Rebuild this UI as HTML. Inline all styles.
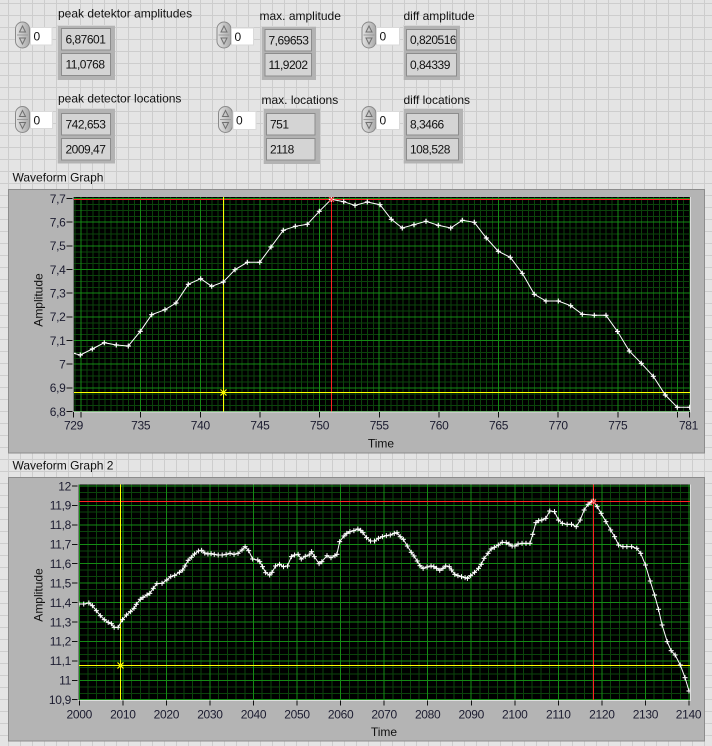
<!DOCTYPE html>
<html><head><meta charset="utf-8">
<style>
html,body{margin:0;padding:0;width:712px;height:746px;overflow:hidden;background:#e4e4e4}
svg{display:block}
text{font-family:"Liberation Sans",Arial,sans-serif;font-size:12px;fill:#111}
.n{letter-spacing:-0.5px}
.ax{fill:#1c1c30;letter-spacing:-0.3px}
</style></head><body>
<svg width="712" height="746" viewBox="0 0 712 746" xmlns="http://www.w3.org/2000/svg" xmlns:xlink="http://www.w3.org/1999/xlink">
<defs>
<pattern id="bg" patternUnits="userSpaceOnUse" x="0" y="0" width="12" height="12">
<rect width="12" height="12" fill="#e4e4e4"/>
<rect x="8" y="0" width="1" height="12" fill="#cdcdcd"/>
<rect x="0" y="3" width="12" height="1" fill="#cdcdcd"/>
</pattern>
<linearGradient id="sg" x1="0" y1="0" x2="1" y2="0">
<stop offset="0" stop-color="#e2e2e2"/><stop offset="1" stop-color="#a9a9a9"/>
</linearGradient>
<g id="spin">
<rect x="0.5" y="0.5" width="14" height="26" rx="7" fill="url(#sg)" stroke="#8a8a8a"/>
<path d="M7.5 4.5L4.5 10.5H10.5Z" fill="none" stroke="#707070"/>
<line x1="2" y1="13.5" x2="13" y2="13.5" stroke="#9a9a9a"/>
<path d="M7.5 22.5L4.5 16.5H10.5Z" fill="none" stroke="#707070"/>
</g>
<marker id="m1" markerUnits="userSpaceOnUse" markerWidth="8" markerHeight="8" refX="4" refY="4" overflow="visible">
<path d="M1.5 4H6.5M4 1.5V6.5" stroke="#fff" stroke-width="1.2"/>
</marker>
<marker id="m2" markerUnits="userSpaceOnUse" markerWidth="20" markerHeight="20" refX="0" refY="0" overflow="visible">
<rect x="-6.3" y="-1.6" width="12.6" height="3.2" fill="#fff"/>
<rect x="-1.3" y="-7.5" width="2.6" height="15" fill="#fff"/>
</marker>
<clipPath id="c1"><rect x="73" y="197" width="617" height="214.5"/></clipPath>
<clipPath id="c2"><rect x="78" y="484.5" width="612" height="215.5"/></clipPath>
<clipPath id="ce"><rect x="406.5" y="29.5" width="49" height="20.5"/></clipPath>
</defs>

<rect width="712" height="746" fill="url(#bg)"/>

<!-- ===== Controls ===== -->
<g>
<text x="58" y="17.5">peak detektor amplitudes</text>
<use xlink:href="#spin" x="15" y="21.5"/>
<rect x="30.5" y="27.5" width="21.5" height="17.5" fill="#fff" stroke="#dadada"/>
<text x="33.5" y="40.5">0</text>
<rect x="57" y="25" width="58" height="55" fill="#b3b3b3"/>
<path d="M57.5 80V25.5H115" fill="none" stroke="#d6d6d6"/>
<rect x="61.5" y="28.5" width="49" height="21.5" fill="#d4d4d4" stroke="#8c8c8c"/>
<text class="n" x="65.5" y="43.5">6,87601</text>
<rect x="61.5" y="53.5" width="49" height="22" fill="#d4d4d4" stroke="#8c8c8c"/>
<text class="n" x="65.5" y="68.7">11,0768</text>

<text x="259.5" y="20">max. amplitude</text>
<use xlink:href="#spin" x="216.5" y="21.5"/>
<rect x="231.5" y="28" width="22" height="17" fill="#fff" stroke="#dadada"/>
<text x="234.5" y="41">0</text>
<rect x="261" y="26" width="55" height="54" fill="#b3b3b3"/>
<path d="M261.5 80V26.5H316" fill="none" stroke="#d6d6d6"/>
<rect x="265" y="29.5" width="46.5" height="21.5" fill="#d4d4d4" stroke="#8c8c8c"/>
<text class="n" x="268.5" y="44.5">7,69653</text>
<rect x="265" y="53.5" width="46.5" height="22.5" fill="#d4d4d4" stroke="#8c8c8c"/>
<text class="n" x="268.5" y="69">11,9202</text>

<text x="403.5" y="20">diff amplitude</text>
<use xlink:href="#spin" x="361.5" y="21.5"/>
<rect x="376.5" y="27.5" width="23" height="17.5" fill="#fff" stroke="#dadada"/>
<text x="379.5" y="40.5">0</text>
<rect x="403" y="25" width="57" height="55" fill="#b3b3b3"/>
<path d="M403.5 80V25.5H460" fill="none" stroke="#d6d6d6"/>
<rect x="406.5" y="29.5" width="50" height="20.5" fill="#d4d4d4" stroke="#8c8c8c"/>
<text class="n" x="410" y="44" clip-path="url(#ce)">0,820516</text>
<rect x="406.5" y="53.5" width="50" height="22.5" fill="#d4d4d4" stroke="#8c8c8c"/>
<text class="n" x="410" y="69">0,84339</text>

<text x="58" y="102.5">peak detector locations</text>
<use xlink:href="#spin" x="15" y="106"/>
<rect x="30.5" y="111.5" width="22" height="17" fill="#fff" stroke="#dadada"/>
<text x="33.5" y="124.5">0</text>
<rect x="57" y="108" width="58" height="55.5" fill="#b3b3b3"/>
<path d="M57.5 163.5V108.5H115" fill="none" stroke="#d6d6d6"/>
<rect x="61.5" y="113.5" width="49" height="21.5" fill="#d4d4d4" stroke="#8c8c8c"/>
<text class="n" x="65.5" y="128.5">742,653</text>
<rect x="61.5" y="138.5" width="49" height="21.5" fill="#d4d4d4" stroke="#8c8c8c"/>
<text class="n" x="65.5" y="153.5">2009,47</text>

<text x="261.5" y="104">max. locations</text>
<use xlink:href="#spin" x="218" y="106"/>
<rect x="233" y="111.5" width="23" height="18" fill="#fff" stroke="#dadada"/>
<text x="236" y="124.5">0</text>
<rect x="263" y="108" width="57" height="56" fill="#b3b3b3"/>
<path d="M263.5 164V108.5H320" fill="none" stroke="#d6d6d6"/>
<rect x="266.5" y="113.5" width="48.5" height="21.5" fill="#d4d4d4" stroke="#8c8c8c"/>
<text class="n" x="270" y="128.5">751</text>
<rect x="266.5" y="138.5" width="48.5" height="21.5" fill="#d4d4d4" stroke="#8c8c8c"/>
<text class="n" x="270" y="153.5">2118</text>

<text x="403.5" y="104">diff locations</text>
<use xlink:href="#spin" x="361.5" y="106"/>
<rect x="376.5" y="111.5" width="23" height="18" fill="#fff" stroke="#dadada"/>
<text x="379.5" y="124.5">0</text>
<rect x="403" y="108" width="60" height="55.5" fill="#b3b3b3"/>
<path d="M403.5 163.5V108.5H463" fill="none" stroke="#d6d6d6"/>
<rect x="406.5" y="113.5" width="52" height="21.5" fill="#d4d4d4" stroke="#8c8c8c"/>
<text class="n" x="410" y="128.5">8,3466</text>
<rect x="406.5" y="138.5" width="52" height="21.5" fill="#d4d4d4" stroke="#8c8c8c"/>
<text class="n" x="410" y="153.5">108,528</text>
</g>

<!-- ===== Waveform Graph 1 ===== -->
<text x="12.5" y="181.5">Waveform Graph</text>
<rect x="8.5" y="189.5" width="696" height="263.5" fill="#b4b4b4" stroke="#8c8c8c"/>
<rect x="73" y="197" width="617" height="214.5" fill="#000"/>
<g clip-path="url(#c1)" fill="none">
<g shape-rendering="crispEdges">
<path stroke="#0b440b" stroke-width="1" d="M75.035 197v214.5m5.965 -214.5v214.5m5.965 -214.5v214.5m5.965 -214.5v214.5m5.965 -214.5v214.5m5.965 -214.5v214.5m5.965 -214.5v214.5m5.965 -214.5v214.5m5.965 -214.5v214.5m5.965 -214.5v214.5m5.965 -214.5v214.5m5.965 -214.5v214.5m5.965 -214.5v214.5m5.965 -214.5v214.5m5.965 -214.5v214.5m5.965 -214.5v214.5m5.965 -214.5v214.5m5.965 -214.5v214.5m5.965 -214.5v214.5m5.965 -214.5v214.5m5.965 -214.5v214.5m5.965 -214.5v214.5m5.965 -214.5v214.5m5.965 -214.5v214.5m5.965 -214.5v214.5m5.965 -214.5v214.5m5.965 -214.5v214.5m5.965 -214.5v214.5m5.965 -214.5v214.5m5.965 -214.5v214.5m5.965 -214.5v214.5m5.965 -214.5v214.5m5.965 -214.5v214.5m5.965 -214.5v214.5m5.965 -214.5v214.5m5.965 -214.5v214.5m5.965 -214.5v214.5m5.965 -214.5v214.5m5.965 -214.5v214.5m5.965 -214.5v214.5m5.965 -214.5v214.5m5.965 -214.5v214.5m5.965 -214.5v214.5m5.965 -214.5v214.5m5.965 -214.5v214.5m5.965 -214.5v214.5m5.965 -214.5v214.5m5.965 -214.5v214.5m5.965 -214.5v214.5m5.965 -214.5v214.5m5.965 -214.5v214.5m5.965 -214.5v214.5m5.965 -214.5v214.5m5.965 -214.5v214.5m5.965 -214.5v214.5m5.965 -214.5v214.5m5.965 -214.5v214.5m5.965 -214.5v214.5m5.965 -214.5v214.5m5.965 -214.5v214.5m5.965 -214.5v214.5m5.965 -214.5v214.5m5.965 -214.5v214.5m5.965 -214.5v214.5m5.965 -214.5v214.5m5.965 -214.5v214.5m5.965 -214.5v214.5m5.965 -214.5v214.5m5.965 -214.5v214.5m5.965 -214.5v214.5m5.965 -214.5v214.5m5.965 -214.5v214.5m5.965 -214.5v214.5m5.965 -214.5v214.5m5.965 -214.5v214.5m5.965 -214.5v214.5m5.965 -214.5v214.5m5.965 -214.5v214.5m5.965 -214.5v214.5m5.965 -214.5v214.5m5.965 -214.5v214.5m5.965 -214.5v214.5m5.965 -214.5v214.5m5.965 -214.5v214.5m5.965 -214.5v214.5m5.965 -214.5v214.5m5.965 -214.5v214.5m5.965 -214.5v214.5m5.965 -214.5v214.5m5.965 -214.5v214.5m5.965 -214.5v214.5m5.965 -214.5v214.5m5.965 -214.5v214.5m5.965 -214.5v214.5m5.965 -214.5v214.5m5.965 -214.5v214.5m5.965 -214.5v214.5m5.965 -214.5v214.5m5.965 -214.5v214.5m5.965 -214.5v214.5m5.965 -214.5v214.5m5.965 -214.5v214.5m5.965 -214.5v214.5m5.965 -214.5v214.5m5.965 -214.5v214.5m5.965 -214.5v214.5"/>
<path stroke="#0b440b" stroke-width="1" d="M73 198.5h617m-617 5.9175h617m-617 5.9175h617m-617 5.9175h617m-617 5.9175h617m-617 5.9175h617m-617 5.9175h617m-617 5.9175h617m-617 5.9175h617m-617 5.9175h617m-617 5.9175h617m-617 5.9175h617m-617 5.9175h617m-617 5.9175h617m-617 5.9175h617m-617 5.9175h617m-617 5.9175h617m-617 5.9175h617m-617 5.9175h617m-617 5.9175h617m-617 5.9175h617m-617 5.9175h617m-617 5.9175h617m-617 5.9175h617m-617 5.9175h617m-617 5.9175h617m-617 5.9175h617m-617 5.9175h617m-617 5.9175h617m-617 5.9175h617m-617 5.9175h617m-617 5.9175h617m-617 5.9175h617m-617 5.9175h617m-617 5.9175h617m-617 5.9175h617m-617 5.9175h617"/>
<path stroke="#148a14" stroke-width="1" d="M81 197v214.5m59.65 -214.5v214.5m59.65 -214.5v214.5m59.65 -214.5v214.5m59.65 -214.5v214.5m59.65 -214.5v214.5m59.65 -214.5v214.5m59.65 -214.5v214.5m59.65 -214.5v214.5m59.65 -214.5v214.5m59.65 -214.5v214.5"/>
<path stroke="#148a14" stroke-width="1" d="M73 198.5h617m-617 23.67h617m-617 23.67h617m-617 23.67h617m-617 23.67h617m-617 23.67h617m-617 23.67h617m-617 23.67h617m-617 23.67h617m-617 23.67h617"/>
<line x1="331.5" y1="197" x2="331.5" y2="412" stroke="#ff2020"/>
<line x1="73" y1="199.5" x2="690" y2="199.5" stroke="#ff2020"/>
<line x1="223.5" y1="197" x2="223.5" y2="412" stroke="#ffff00"/>
<line x1="73" y1="392.5" x2="690" y2="392.5" stroke="#ffff00"/>
</g>
<polyline fill="none" stroke="#fff" stroke-width="1" marker-start="url(#m1)" marker-mid="url(#m1)" marker-end="url(#m1)" points="73.3,353.3 80.3,355 92.3,349 104.3,342.7 116.3,345 128.3,346 140.3,331.3 151.7,314.7 165,309.7 176,303 188.3,284.3 200.7,278.7 211.7,286.3 223.3,282 235,269.7 247.3,262.3 259.7,262.3 271,247 283.3,230.3 295.3,226.3 307.3,224.3 319.3,211.3 331.3,199.3 343.7,201.7 355,205.3 367.3,202 380,204.7 391.3,219.3 402.3,228 414,224.7 426,221.3 438.3,225.3 450.7,228 462.3,220.3 474.3,222.3 486.3,238 498.3,251.3 510.3,257.3 522.3,273.3 534.3,294.3 546,301 558.3,301 570.7,305.7 582.3,314.3 594.3,315.3 606,315.3 617.5,331.5 629.3,351 641.3,363.3 653.3,376.3 665.3,395 677.3,407.3 689.7,407.3"/>
<path d="M220.5 389.5l6 6M226.5 389.5l-6 6" stroke="#ffff00" stroke-width="1.2"/>
<path d="M329 197l5 5M334 197l-5 5" stroke="#ff4040" stroke-width="1.2"/>
</g>
<rect x="73" y="197" width="1" height="215" fill="#7a7a7a"/>
<rect x="73" y="411.5" width="618" height="1" fill="#dedede"/>
<rect x="690" y="197" width="1" height="215.5" fill="#dedede"/>
<path stroke="#111" stroke-width="1" shape-rendering="crispEdges" d="M66.5 198.5h6M66.5 222.2h6M66.5 245.8h6M66.5 269.5h6M66.5 293.2h6M66.5 316.9h6M66.5 340.5h6M66.5 364.2h6M66.5 387.9h6M66.5 411.5h6"/>
<g text-anchor="end">
<text class="ax" x="65.5" y="202.8">7,7</text>
<text class="ax" x="65.5" y="226.5">7,6</text>
<text class="ax" x="65.5" y="250.1">7,5</text>
<text class="ax" x="65.5" y="273.8">7,4</text>
<text class="ax" x="65.5" y="297.5">7,3</text>
<text class="ax" x="65.5" y="321.2">7,2</text>
<text class="ax" x="65.5" y="344.8">7,1</text>
<text class="ax" x="65.5" y="368.5">7</text>
<text class="ax" x="65.5" y="392.2">6,9</text>
<text class="ax" x="65.5" y="415.8">6,8</text>
</g>
<path stroke="#111" stroke-width="1" shape-rendering="crispEdges" d="M73.5 412v5.5M81 412v5.5M140.65 412v5.5M200.3 412v5.5M259.95 412v5.5M319.6 412v5.5M379.25 412v5.5M438.9 412v5.5M498.55 412v5.5M558.2 412v5.5M617.85 412v5.5M677.5 412v5.5M689.5 412v5.5"/>
<g text-anchor="middle">
<text class="ax" x="73.5" y="429.5">729</text>
<text class="ax" x="140.65" y="429.5">735</text>
<text class="ax" x="200.3" y="429.5">740</text>
<text class="ax" x="259.95" y="429.5">745</text>
<text class="ax" x="319.6" y="429.5">750</text>
<text class="ax" x="379.25" y="429.5">755</text>
<text class="ax" x="438.9" y="429.5">760</text>
<text class="ax" x="498.55" y="429.5">765</text>
<text class="ax" x="558.2" y="429.5">770</text>
<text class="ax" x="617.85" y="429.5">775</text>
<text class="ax" x="688.5" y="429.5">781</text>
<text x="381" y="447.5">Time</text>
</g>
<text transform="translate(42.5,300) rotate(-90)" text-anchor="middle">Amplitude</text>

<!-- ===== Waveform Graph 2 ===== -->
<text x="12.5" y="469.5">Waveform Graph 2</text>
<rect x="8.5" y="477.5" width="696" height="263.5" fill="#b4b4b4" stroke="#8c8c8c"/>
<rect x="78" y="484.5" width="612" height="215.5" fill="#000"/>
<g clip-path="url(#c2)" fill="none">
<g shape-rendering="crispEdges">
<path stroke="#0b440b" stroke-width="1" d="M79.3 484.5v215.5m8.71 -215.5v215.5m8.71 -215.5v215.5m8.71 -215.5v215.5m8.71 -215.5v215.5m8.71 -215.5v215.5m8.71 -215.5v215.5m8.71 -215.5v215.5m8.71 -215.5v215.5m8.71 -215.5v215.5m8.71 -215.5v215.5m8.71 -215.5v215.5m8.71 -215.5v215.5m8.71 -215.5v215.5m8.71 -215.5v215.5m8.71 -215.5v215.5m8.71 -215.5v215.5m8.71 -215.5v215.5m8.71 -215.5v215.5m8.71 -215.5v215.5m8.71 -215.5v215.5m8.71 -215.5v215.5m8.71 -215.5v215.5m8.71 -215.5v215.5m8.71 -215.5v215.5m8.71 -215.5v215.5m8.71 -215.5v215.5m8.71 -215.5v215.5m8.71 -215.5v215.5m8.71 -215.5v215.5m8.71 -215.5v215.5m8.71 -215.5v215.5m8.71 -215.5v215.5m8.71 -215.5v215.5m8.71 -215.5v215.5m8.71 -215.5v215.5m8.71 -215.5v215.5m8.71 -215.5v215.5m8.71 -215.5v215.5m8.71 -215.5v215.5m8.71 -215.5v215.5m8.71 -215.5v215.5m8.71 -215.5v215.5m8.71 -215.5v215.5m8.71 -215.5v215.5m8.71 -215.5v215.5m8.71 -215.5v215.5m8.71 -215.5v215.5m8.71 -215.5v215.5m8.71 -215.5v215.5m8.71 -215.5v215.5m8.71 -215.5v215.5m8.71 -215.5v215.5m8.71 -215.5v215.5m8.71 -215.5v215.5m8.71 -215.5v215.5m8.71 -215.5v215.5m8.71 -215.5v215.5m8.71 -215.5v215.5m8.71 -215.5v215.5m8.71 -215.5v215.5m8.71 -215.5v215.5m8.71 -215.5v215.5m8.71 -215.5v215.5m8.71 -215.5v215.5m8.71 -215.5v215.5m8.71 -215.5v215.5m8.71 -215.5v215.5m8.71 -215.5v215.5m8.71 -215.5v215.5m8.71 -215.5v215.5m8.71 -215.5v215.5"/>
<path stroke="#0b440b" stroke-width="1" d="M78 486h612m-612 6.4767h612m-612 6.4767h612m-612 6.4767h612m-612 6.4767h612m-612 6.4767h612m-612 6.4767h612m-612 6.4767h612m-612 6.4767h612m-612 6.4767h612m-612 6.4767h612m-612 6.4767h612m-612 6.4767h612m-612 6.4767h612m-612 6.4767h612m-612 6.4767h612m-612 6.4767h612m-612 6.4767h612m-612 6.4767h612m-612 6.4767h612m-612 6.4767h612m-612 6.4767h612m-612 6.4767h612m-612 6.4767h612m-612 6.4767h612m-612 6.4767h612m-612 6.4767h612m-612 6.4767h612m-612 6.4767h612m-612 6.4767h612m-612 6.4767h612m-612 6.4767h612m-612 6.4767h612m-612 6.4767h612"/>
<path stroke="#148a14" stroke-width="1" d="M79.3 484.5v215.5m43.55 -215.5v215.5m43.55 -215.5v215.5m43.55 -215.5v215.5m43.55 -215.5v215.5m43.55 -215.5v215.5m43.55 -215.5v215.5m43.55 -215.5v215.5m43.55 -215.5v215.5m43.55 -215.5v215.5m43.55 -215.5v215.5m43.55 -215.5v215.5m43.55 -215.5v215.5m43.55 -215.5v215.5m43.55 -215.5v215.5"/>
<path stroke="#148a14" stroke-width="1" d="M78 486h612m-612 19.43h612m-612 19.43h612m-612 19.43h612m-612 19.43h612m-612 19.43h612m-612 19.43h612m-612 19.43h612m-612 19.43h612m-612 19.43h612m-612 19.43h612m-612 19.43h612"/>
<line x1="593.5" y1="484.5" x2="593.5" y2="700" stroke="#ff2020"/>
<line x1="78" y1="501.5" x2="690" y2="501.5" stroke="#ff2020"/>
<line x1="120.5" y1="484.5" x2="120.5" y2="700" stroke="#ffff00"/>
<line x1="78" y1="665.5" x2="690" y2="665.5" stroke="#ffff00"/>
</g>
<g transform="translate(75.8,485) scale(0.3956,0.33333)">
<polyline fill="none" stroke="#fff" stroke-width="1" vector-effect="non-scaling-stroke" marker-start="url(#m2)" marker-mid="url(#m2)" marker-end="url(#m2)" points="8,357 20,357 33,354 42,362 52,377 62,392 72,404 82,412 90,416 97,427 107,427 118,404 128,390 138,380 147,370 153,358 163,343 170,337 180,330 187,325 196,310 205,296 218,295 230,285 240,275 250,271 262,262 270,255 276,243 284,226 292,217 300,207 310,198 318,196 326,204 334,207 342,206 350,208 360,210 370,210 380,208 390,205 400,208 410,205 420,195 428,185 437,197 447,222 460,225 465,230 472,245 480,263 490,270 496,262 505,243 515,238 525,245 535,243 545,215 553,210 562,208 570,222 580,214 590,210 596,200 603,215 615,236 622,230 635,212 645,218 655,212 660,208 667,170 678,153 685,145 693,140 703,137 713,132 720,136 726,143 735,158 745,168 755,168 765,160 775,155 785,152 795,150 805,145 812,143 820,155 828,163 838,183 848,202 855,213 863,228 870,242 878,250 888,246 898,243 905,245 912,250 920,256 928,250 935,243 944,245 950,255 958,268 966,272 975,275 984,278 990,280 998,272 1008,262 1018,250 1025,238 1032,220 1042,205 1050,192 1058,187 1068,180 1078,172 1088,173 1095,177 1103,183 1110,183 1118,177 1128,175 1138,175 1148,175 1155,148 1163,113 1170,107 1178,105 1188,100 1198,78 1210,80 1220,105 1230,115 1242,118 1253,118 1265,125 1275,105 1285,75 1295,58 1303,52 1308,48 1318,65 1328,85 1340,110 1352,135 1362,155 1372,180 1383,185 1393,185 1405,185 1418,190 1428,205 1440,240 1452,288 1463,330 1473,373 1482,420 1495,470 1505,497 1515,510 1528,540 1540,578 1550,618"/>
</g>
<path d="M117.5 662.5l6 6M123.5 662.5l-6 6" stroke="#ffff00" stroke-width="1.2"/>
<path d="M591 499l5 5M596 499l-5 5" stroke="#ff4040" stroke-width="1.2"/>
</g>
<rect x="78" y="484.5" width="1" height="216" fill="#7a7a7a"/>
<rect x="78" y="700" width="613" height="1" fill="#dedede"/>
<rect x="690" y="484.5" width="1" height="216" fill="#dedede"/>
<path stroke="#111" stroke-width="1" shape-rendering="crispEdges" d="M72 486h5.5M72 505.43h5.5M72 524.86h5.5M72 544.29h5.5M72 563.72h5.5M72 583.15h5.5M72 602.58h5.5M72 622.01h5.5M72 641.44h5.5M72 660.87h5.5M72 680.3h5.5M72 699.73h5.5"/>
<g text-anchor="end">
<text class="ax" x="71" y="490.3">12</text>
<text class="ax" x="71" y="509.7">11,9</text>
<text class="ax" x="71" y="529.2">11,8</text>
<text class="ax" x="71" y="548.6">11,7</text>
<text class="ax" x="71" y="568">11,6</text>
<text class="ax" x="71" y="587.5">11,5</text>
<text class="ax" x="71" y="606.9">11,4</text>
<text class="ax" x="71" y="626.3">11,3</text>
<text class="ax" x="71" y="645.7">11,2</text>
<text class="ax" x="71" y="665.2">11,1</text>
<text class="ax" x="71" y="684.6">11</text>
<text class="ax" x="71" y="704">10,9</text>
</g>
<path stroke="#111" stroke-width="1" shape-rendering="crispEdges" d="M79.3 700.5v5M122.85 700.5v5M166.4 700.5v5M209.95 700.5v5M253.5 700.5v5M297.05 700.5v5M340.6 700.5v5M384.15 700.5v5M427.7 700.5v5M471.25 700.5v5M514.8 700.5v5M558.35 700.5v5M601.9 700.5v5M645.45 700.5v5M689 700.5v5"/>
<g text-anchor="middle">
<text class="ax" x="79.3" y="718.5">2000</text>
<text class="ax" x="122.85" y="718.5">2010</text>
<text class="ax" x="166.4" y="718.5">2020</text>
<text class="ax" x="209.95" y="718.5">2030</text>
<text class="ax" x="253.5" y="718.5">2040</text>
<text class="ax" x="297.05" y="718.5">2050</text>
<text class="ax" x="340.6" y="718.5">2060</text>
<text class="ax" x="384.15" y="718.5">2070</text>
<text class="ax" x="427.7" y="718.5">2080</text>
<text class="ax" x="471.25" y="718.5">2090</text>
<text class="ax" x="514.8" y="718.5">2100</text>
<text class="ax" x="558.35" y="718.5">2110</text>
<text class="ax" x="601.9" y="718.5">2120</text>
<text class="ax" x="645.45" y="718.5">2130</text>
<text class="ax" x="688.5" y="718.5">2140</text>
<text x="384" y="736">Time</text>
</g>
<text transform="translate(42.5,595) rotate(-90)" text-anchor="middle">Amplitude</text>
</svg>
</body></html>
